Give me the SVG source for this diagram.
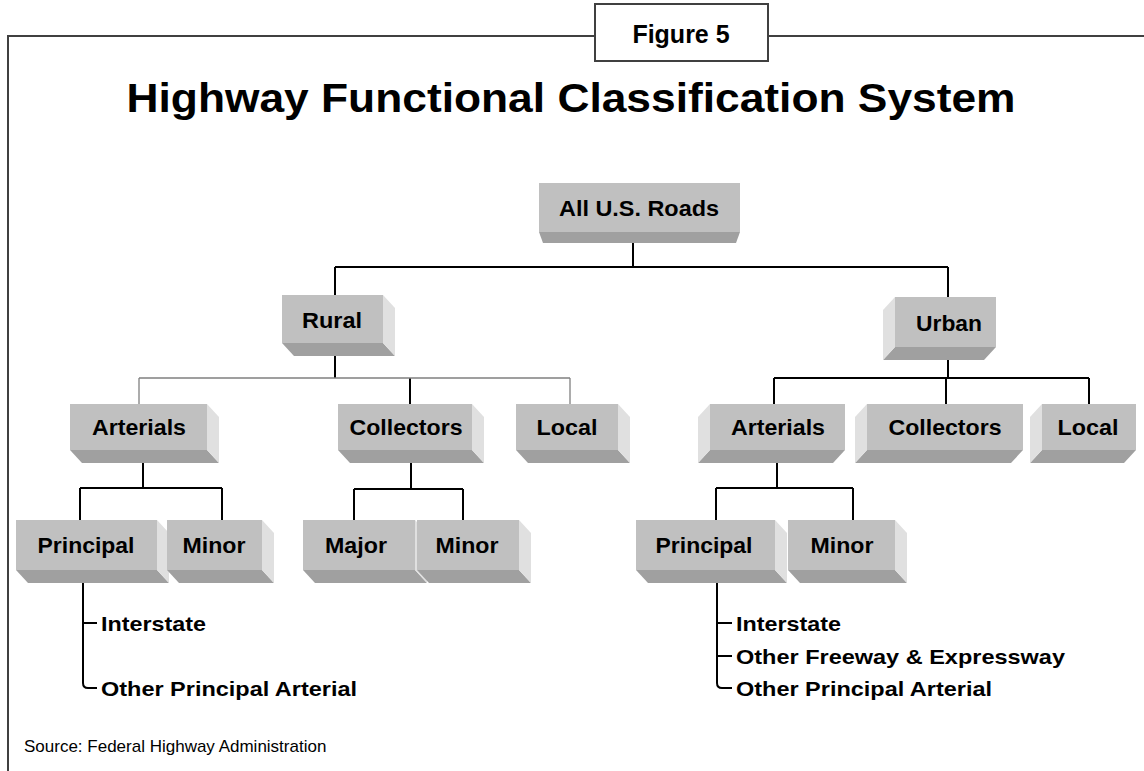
<svg xmlns="http://www.w3.org/2000/svg" width="1144" height="771" viewBox="0 0 1144 771">
<style>
.front{fill:#c0c0c0}
.bot{fill:#a0a0a0}
.side{fill:#e0e0e0}
.lbl{font-family:"Liberation Sans",Arial,sans-serif;font-weight:bold;font-size:22px;fill:#000;text-anchor:middle}
.bul{font-family:"Liberation Sans",Arial,sans-serif;font-weight:bold;font-size:21px;fill:#000}
.ln{stroke:#000;stroke-width:2;fill:none}
.thin{stroke:#808080;stroke-width:1.3;fill:none}
</style>
<rect width="1144" height="771" fill="#fff"/>
<g id="frame">
<path d="M8,771 V36 H595 M768,36 H1144" stroke="#404040" stroke-width="2" fill="none"/>
<rect x="595" y="4" width="173" height="57" fill="#fff" stroke="#404040" stroke-width="2"/>
<text x="681" y="43" style="font-family:'Liberation Sans',Arial,sans-serif;font-weight:bold;font-size:25px;text-anchor:middle">Figure 5</text>
</g>
<text id="title" x="571" y="112" textLength="889" lengthAdjust="spacingAndGlyphs" style="font-family:'Liberation Sans',Arial,sans-serif;font-weight:bold;font-size:40px;text-anchor:middle">Highway Functional Classification System</text>
<g id="connectors">
<path class="ln" d="M633,243 V267 M335,267 H948 M335,267 V295 M948,267 V297"/>
<path class="ln" d="M335,356 V378 M410,378 V404"/>
<path class="thin" d="M139,378 H570 M139,378 V404 M570,378 V404"/>
<path class="ln" d="M948,360 V378 M774,378 H1089 M774,378 V404 M946,378 V404 M1089,378 V404"/>
<path class="ln" d="M143,463 V488 M80,488 H222 M80,488 V520 M222,488 V520"/>
<path class="ln" d="M411,463 V489 M354,489 H463 M354,489 V520 M463,489 V520"/>
<path class="ln" d="M777,463 V488 M716,488 H853 M716,488 V520 M853,488 V520"/>
<path class="ln" stroke-width="2.5" d="M83,583 V683 Q83,688 88,688 H97 M83,623 H97"/>
<path class="ln" stroke-width="2.5" d="M717,583 V683 Q717,688 722,688 H732 M717,623 H732 M717,656 H732"/>
</g>
<g id="node-all">
<polygon class="bot" points="539,232 740,232 736,243 543,243"/>
<rect class="front" x="539" y="183" width="201" height="49"/>
<text class="lbl" x="639" y="216" textLength="160" lengthAdjust="spacingAndGlyphs">All U.S. Roads</text>
</g>
<g id="node-rural">
<polygon class="bot" points="282,343 383,343 395,356 294,356"/>
<polygon class="side" points="383,295 395,308 395,356 383,343"/>
<rect class="front" x="282" y="295" width="101" height="48"/>
<text class="lbl" x="332" y="328" textLength="60" lengthAdjust="spacingAndGlyphs">Rural</text>
</g>
<g id="node-urban">
<polygon class="bot" points="895,347 996,347 984,360 883,360"/>
<polygon class="side" points="895,297 883,310 883,360 895,347"/>
<rect class="front" x="895" y="297" width="101" height="50"/>
<text class="lbl" x="949" y="331" textLength="66" lengthAdjust="spacingAndGlyphs">Urban</text>
</g>
<g id="node-r-arterials">
<polygon class="bot" points="70,450 207,450 219,463 82,463"/>
<polygon class="side" points="207,404 219,417 219,463 207,450"/>
<rect class="front" x="70" y="404" width="137" height="46"/>
<text class="lbl" x="139" y="435" textLength="94" lengthAdjust="spacingAndGlyphs">Arterials</text>
</g>
<g id="node-r-collectors">
<polygon class="bot" points="338,450 472,450 484,463 350,463"/>
<polygon class="side" points="472,404 484,417 484,463 472,450"/>
<rect class="front" x="338" y="404" width="134" height="46"/>
<text class="lbl" x="406" y="435" textLength="113" lengthAdjust="spacingAndGlyphs">Collectors</text>
</g>
<g id="node-r-local">
<polygon class="bot" points="516,450 618,450 630,463 528,463"/>
<polygon class="side" points="618,404 630,417 630,463 618,450"/>
<rect class="front" x="516" y="404" width="102" height="46"/>
<text class="lbl" x="567" y="435" textLength="61" lengthAdjust="spacingAndGlyphs">Local</text>
</g>
<g id="node-u-arterials">
<polygon class="bot" points="710,450 845,450 833,463 698,463"/>
<polygon class="side" points="710,404 698,417 698,463 710,450"/>
<rect class="front" x="710" y="404" width="135" height="46"/>
<text class="lbl" x="778" y="435" textLength="94" lengthAdjust="spacingAndGlyphs">Arterials</text>
</g>
<g id="node-u-collectors">
<polygon class="bot" points="867,450 1023,450 1011,463 855,463"/>
<polygon class="side" points="867,404 855,417 855,463 867,450"/>
<rect class="front" x="867" y="404" width="156" height="46"/>
<text class="lbl" x="945" y="435" textLength="113" lengthAdjust="spacingAndGlyphs">Collectors</text>
</g>
<g id="node-u-local">
<polygon class="bot" points="1042,450 1136,450 1124,463 1030,463"/>
<polygon class="side" points="1042,404 1030,417 1030,463 1042,450"/>
<rect class="front" x="1042" y="404" width="94" height="46"/>
<text class="lbl" x="1088" y="435" textLength="61" lengthAdjust="spacingAndGlyphs">Local</text>
</g>
<g id="node-r-principal">
<polygon class="bot" points="16,570 157,570 169,583 28,583"/>
<polygon class="side" points="157,520 169,533 169,583 157,570"/>
<rect class="front" x="16" y="520" width="141" height="50"/>
<text class="lbl" x="86" y="553" textLength="97" lengthAdjust="spacingAndGlyphs">Principal</text>
</g>
<g id="node-r-minor">
<polygon class="bot" points="167,570 262,570 274,583 179,583"/>
<polygon class="side" points="262,520 274,533 274,583 262,570"/>
<rect class="front" x="167" y="520" width="95" height="50"/>
<text class="lbl" x="214" y="553" textLength="63" lengthAdjust="spacingAndGlyphs">Minor</text>
</g>
<g id="node-c-major">
<polygon class="bot" points="303,570 415,570 427,583 315,583"/>
<polygon class="side" points="415,520 427,533 427,583 415,570"/>
<rect class="front" x="303" y="520" width="112" height="50"/>
<text class="lbl" x="356" y="553" textLength="62" lengthAdjust="spacingAndGlyphs">Major</text>
</g>
<g id="node-c-minor">
<polygon class="bot" points="417,570 519,570 531,583 429,583"/>
<polygon class="side" points="519,520 531,533 531,583 519,570"/>
<rect class="front" x="417" y="520" width="102" height="50"/>
<text class="lbl" x="467" y="553" textLength="63" lengthAdjust="spacingAndGlyphs">Minor</text>
</g>
<g id="node-u-principal">
<polygon class="bot" points="636,570 775,570 787,583 648,583"/>
<polygon class="side" points="775,520 787,533 787,583 775,570"/>
<rect class="front" x="636" y="520" width="139" height="50"/>
<text class="lbl" x="704" y="553" textLength="97" lengthAdjust="spacingAndGlyphs">Principal</text>
</g>
<g id="node-u-minor">
<polygon class="bot" points="788,570 895,570 907,583 800,583"/>
<polygon class="side" points="895,520 907,533 907,583 895,570"/>
<rect class="front" x="788" y="520" width="107" height="50"/>
<text class="lbl" x="842" y="553" textLength="63" lengthAdjust="spacingAndGlyphs">Minor</text>
</g>
<g id="r-list">
<text class="bul" x="101" y="631" textLength="105" lengthAdjust="spacingAndGlyphs">Interstate</text>
<text class="bul" x="101" y="696" textLength="256" lengthAdjust="spacingAndGlyphs">Other Principal Arterial</text>
</g>
<g id="u-list">
<text class="bul" x="736" y="631" textLength="105" lengthAdjust="spacingAndGlyphs">Interstate</text>
<text class="bul" x="736" y="664" textLength="329" lengthAdjust="spacingAndGlyphs">Other Freeway &amp; Expressway</text>
<text class="bul" x="736" y="696" textLength="256" lengthAdjust="spacingAndGlyphs">Other Principal Arterial</text>
</g>
<text id="source" x="24" y="752" style="font-family:'Liberation Sans',Arial,sans-serif;font-size:17px">Source:  Federal Highway Administration</text>
</svg>
